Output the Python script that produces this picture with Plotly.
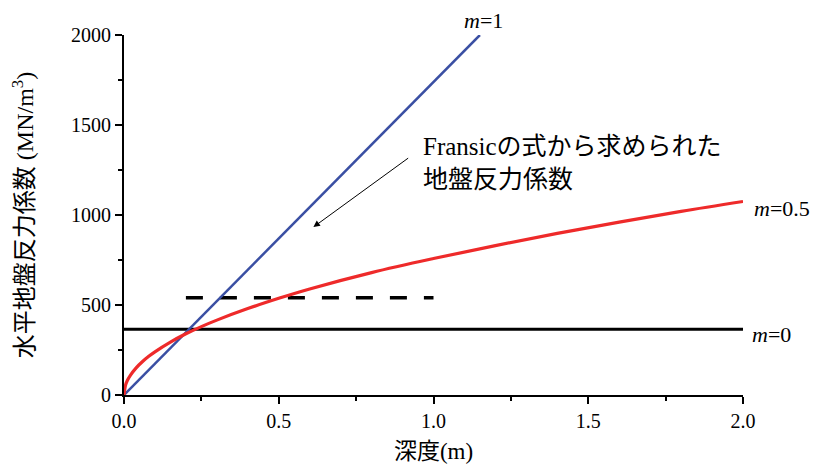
import plotly.graph_objects as go

# Data
red_x = [0, 0.005, 0.01, 0.02, 0.04, 0.06, 0.08, 0.1, 0.15, 0.2, 0.25, 0.3, 0.4, 0.5,
         0.6, 0.8, 1.0, 1.2, 1.4, 1.6, 1.8, 2.0]
red_y = [0, 55, 78, 108, 152, 186, 215, 240, 294, 340, 380, 416, 480, 537,
         589, 680, 758, 830, 898, 960, 1020, 1075]
blue_x = [0, 1.15]
blue_y = [0, 2000]
black_x = [0, 2.0]
black_y = [365, 365]
dash_x = [0.2, 1.0]
dash_y = [540, 540]

xticks = [0.0, 0.5, 1.0, 1.5, 2.0]
xticklabels = ["0.0", "0.5", "1.0", "1.5", "2.0"]
yticks = [0, 500, 1000, 1500, 2000]
yticklabels = ["0", "500", "1000", "1500", "2000"]

SERIF = "Liberation Serif, Noto Sans CJK JP, serif"

fig = go.Figure()
fig.add_trace(go.Scatter(x=black_x, y=black_y, mode="lines",
                         line=dict(color="black", width=3), showlegend=False))
fig.add_trace(go.Scatter(x=dash_x, y=dash_y, mode="lines",
                         line=dict(color="black", width=3.5, dash="17px,17px"), showlegend=False))
fig.add_trace(go.Scatter(x=blue_x, y=blue_y, mode="lines",
                         line=dict(color="#3a4fa3", width=2.5), showlegend=False))
fig.add_trace(go.Scatter(x=red_x, y=red_y, mode="lines", line_shape="spline",
                         line=dict(color="#ee2a2a", width=3.2), showlegend=False))

axis_common = dict(
    showgrid=False, zeroline=False, showline=True, linecolor="black", linewidth=2,
    ticks="outside", ticklen=7, tickwidth=1.5, tickcolor="black",
    tickfont=dict(family=SERIF, size=20, color="black"),
    minor=dict(ticks="outside", ticklen=4, tickwidth=1.5, tickcolor="black"),
    automargin=False,
)

fig.update_xaxes(range=[0, 2.0], tickvals=xticks, ticktext=xticklabels,
                 minor_dtick=0.25,
                 title=dict(text="深度(m)", font=dict(family=SERIF, size=23, color="black"), standoff=12),
                 **axis_common)
fig.update_yaxes(range=[0, 2000], tickvals=yticks, ticktext=yticklabels,
                 minor_dtick=250,
                 title=dict(text="水平地盤反力係数 (MN/m<sup>3</sup>)",
                            font=dict(family=SERIF, size=24, color="black"), standoff=48),
                 **axis_common)

lab_font = dict(family=SERIF, size=22, color="black")
fig.add_annotation(x=1.15, y=2000, text="<i>m</i>=1", showarrow=False, xanchor="left",
                   yanchor="bottom", xshift=-18, yshift=0, font=lab_font)
fig.add_annotation(x=2.0, y=1075, text="<i>m</i>=0.5", showarrow=False, xanchor="left",
                   xshift=9, yshift=-7, font=lab_font)
fig.add_annotation(x=2.0, y=365, text="<i>m</i>=0", showarrow=False, xanchor="left",
                   xshift=7, yshift=-5, font=lab_font)
fig.add_annotation(x=0.961, y=1289, text="Fransicの式から求められた<br>地盤反力係数",
                   showarrow=False, xanchor="left", yanchor="middle", align="left",
                   font=dict(family=SERIF, size=25, color="black"))
fig.add_annotation(x=0.612, y=933, ax=0.923, ay=1322, axref="x", ayref="y",
                   xref="x", yref="y", text="", showarrow=True, arrowhead=2,
                   arrowsize=1.3, arrowwidth=1, arrowcolor="black")

fig.update_layout(width=823, height=470, margin=dict(l=116, r=88, t=27, b=83),
                  font=dict(family=SERIF, color="black"),
                  plot_bgcolor="white", paper_bgcolor="white")
fig.write_html("out.html")
